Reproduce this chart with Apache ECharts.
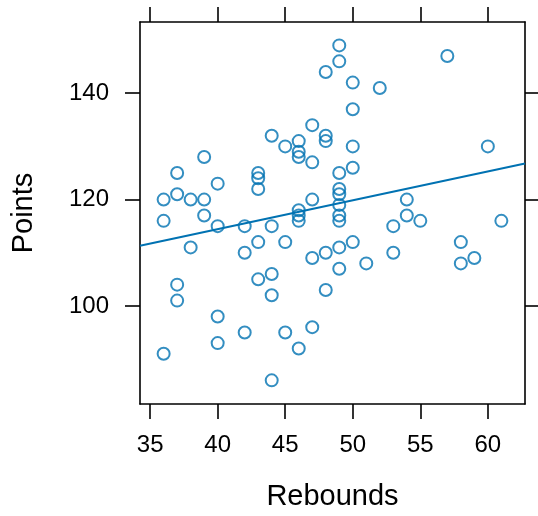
<!DOCTYPE html>
<html>
<head>
<meta charset="utf-8">
<title>Points vs Rebounds</title>
<script src="https://cdn.jsdelivr.net/npm/echarts@6/dist/echarts.min.js"></script>
<style>
  html, body { margin: 0; padding: 0; background: #fff; }
  #chart { width: 538px; height: 516px; }
</style>
</head>
<body>
<div id="chart"></div>
<script>
// rebounds (x) and points (y), one entry per team
const rebounds = [
  36, 36, 36,
  37, 37, 37, 37,
  38, 38,
  39, 39, 39,
  40, 40, 40, 40,
  42, 42, 42,
  43, 43, 43, 43, 43,
  44, 44, 44, 44, 44,
  45, 45, 45,
  46, 46, 46, 46, 46, 46, 46,
  47, 47, 47, 47, 47,
  48, 48, 48, 48, 48,
  49, 49, 49, 49, 49, 49, 49, 49, 49, 49,
  50, 50, 50, 50, 50,
  51, 52, 53, 53, 54, 54, 55, 57, 58, 58, 59, 60, 61
];
const points = [
  120, 116, 91,
  125, 121, 104, 101,
  120, 111,
  128, 120, 117,
  123, 115, 98, 93,
  115, 110, 95,
  125, 124, 122, 112, 105,
  132, 115, 106, 102, 86,
  130, 112, 95,
  131, 129, 128, 118, 117, 116, 92,
  134, 127, 120, 109, 96,
  144, 132, 131, 110, 103,
  149, 146, 125, 122, 121, 119, 117, 116, 111, 107,
  142, 137, 130, 126, 112,
  108, 141, 115, 110, 120, 117, 116, 147, 112, 108, 109, 130, 116
];

// fitted line at the panel edges
const fitX = [34.25, 62.75];
const fitY = [111.3, 126.8];

const xTicks = [35, 40, 45, 50, 55, 60];
const yTicks = [100, 120, 140];

const blue = "#0072b2";
const font = "Liberation Sans, Arial, Helvetica, sans-serif";

const chart = echarts.init(document.getElementById("chart"), null, { renderer: "canvas" });

function makeAxis(pos, ticks, min, max, withLabels) {
  return {
    type: "value",
    position: pos,
    min: min,
    max: max,
    splitLine: { show: false },
    axisLine: { show: true, onZero: false, lineStyle: { color: "#000", width: 1.6 } },
    axisTick: { show: true, customValues: ticks, length: 15, lineStyle: { color: "#000", width: 1.6 } },
    axisLabel: {
      show: withLabels,
      customValues: ticks,
      color: "#000",
      fontSize: 24,
      fontFamily: font,
      margin: pos === "bottom" ? 29 : 31,
    },
  };
}

const xBottom = makeAxis("bottom", xTicks, 34.25, 62.75, true);
xBottom.name = "Rebounds";
xBottom.nameLocation = "middle";
xBottom.nameGap = 78;
xBottom.nameTextStyle = { color: "#000", fontSize: 29, fontFamily: font };

const yLeft = makeAxis("left", yTicks, 81.55, 153.4, true);
yLeft.name = "Points";
yLeft.nameLocation = "middle";
yLeft.nameGap = 102;
yLeft.nameTextStyle = { color: "#000", fontSize: 29, fontFamily: font };

const scatterData = rebounds.map((r, i) => [r, points[i]]);
const fitData = fitX.map((x, i) => [x, fitY[i]]);

chart.setOption({
  animation: false,
  backgroundColor: "#fff",
  grid: { left: 140, right: 13, top: 22, bottom: 109, containLabel: false },
  xAxis: [xBottom, makeAxis("top", xTicks, 34.25, 62.75, false)],
  yAxis: [yLeft, makeAxis("right", yTicks, 81.55, 153.4, false)],
  series: [
    {
      type: "scatter",
      data: scatterData,
      symbol: "circle",
      symbolSize: 12,
      itemStyle: { color: "transparent", borderColor: blue, borderWidth: 2 },
      silent: true,
    },
    {
      type: "line",
      data: fitData,
      symbol: "none",
      lineStyle: { color: blue, width: 2 },
      silent: true,
    },
  ],
});
</script>
</body>
</html>
